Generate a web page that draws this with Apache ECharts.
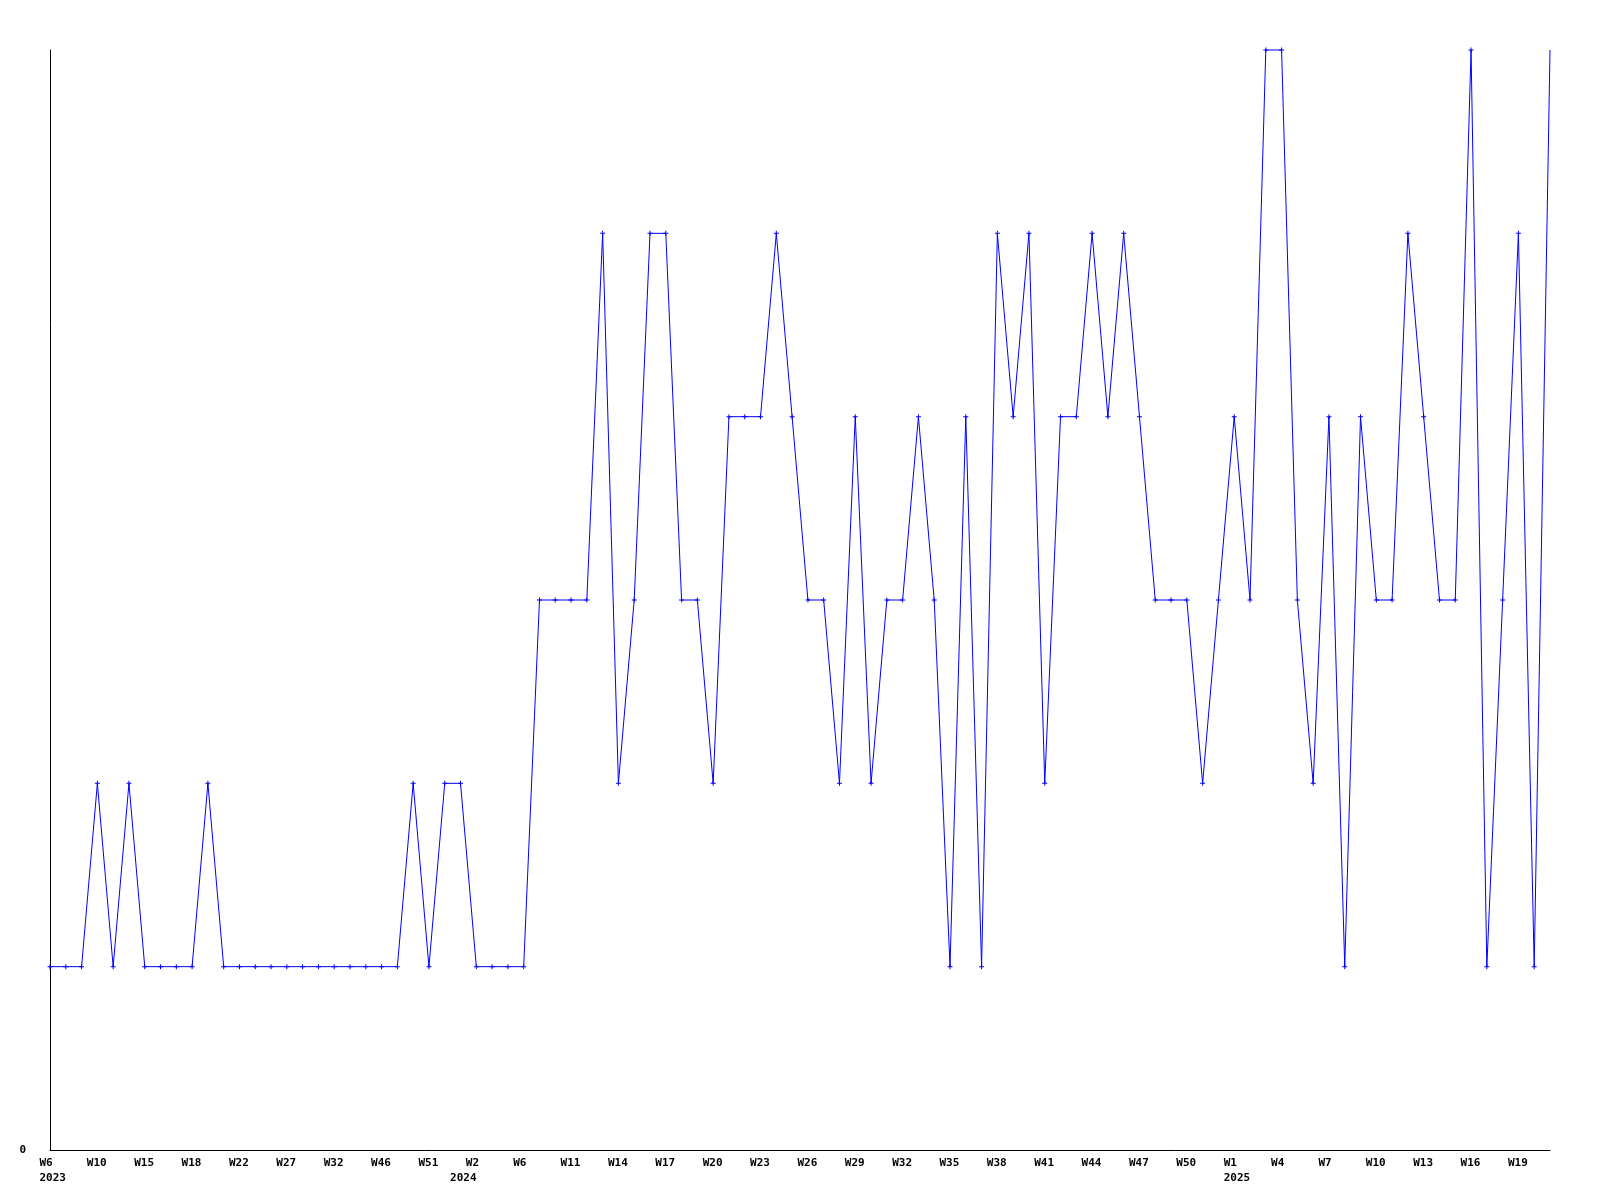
<!DOCTYPE html>
<html>
<head>
<meta charset="utf-8">
<script src="https://cdn.jsdelivr.net/npm/echarts@6/dist/echarts.min.js"></script>
<style>
html,body{margin:0;padding:0;background:#fff;}
#chart{width:1600px;height:1200px;}
</style>
</head>
<body>
<div id="chart"></div>
<script>
// Week categories (year-week)
const weeks = [
  "2023-W6","2023-W8","2023-W9","2023-W10","2023-W12","2023-W13","2023-W15","2023-W16","2023-W17","2023-W18",
  "2023-W19","2023-W21","2023-W22","2023-W24","2023-W25","2023-W27","2023-W29","2023-W30","2023-W32","2023-W36",
  "2023-W41","2023-W46","2023-W48","2023-W49","2023-W51","2023-W52","2024-W1","2024-W2","2024-W4","2024-W5",
  "2024-W6","2024-W8","2024-W10","2024-W11","2024-W12","2024-W13","2024-W14","2024-W15","2024-W16","2024-W17",
  "2024-W18","2024-W19","2024-W20","2024-W21","2024-W22","2024-W23","2024-W24","2024-W25","2024-W26","2024-W27",
  "2024-W28","2024-W29","2024-W30","2024-W31","2024-W32","2024-W33","2024-W34","2024-W35","2024-W36","2024-W37",
  "2024-W38","2024-W39","2024-W40","2024-W41","2024-W42","2024-W43","2024-W44","2024-W45","2024-W46","2024-W47",
  "2024-W48","2024-W49","2024-W50","2024-W51","2024-W52","2025-W1","2025-W2","2025-W3","2025-W4","2025-W5",
  "2025-W6","2025-W7","2025-W8","2025-W9","2025-W10","2025-W11","2025-W12","2025-W13","2025-W14","2025-W15",
  "2025-W16","2025-W17","2025-W18","2025-W19","2025-W20","2025-W21"
];

// Weekly counts
const counts = [
  1,1,1,2,1,2,1,1,1,1,
  2,1,1,1,1,1,1,1,1,1,
  1,1,1,2,1,2,2,1,1,1,
  1,3,3,3,3,5,2,3,5,5,
  3,3,2,4,4,4,5,4,3,3,
  2,4,2,3,3,4,3,1,4,1,
  5,4,5,2,4,4,5,4,5,4,
  3,3,3,2,3,4,3,6,6,3,
  2,4,1,4,3,3,5,4,3,3,
  6,1,3,5,1,6
];

// Y-axis tick labels
const yTicks = [0, 6];

const FONT = '"DejaVu Sans Mono", "Liberation Mono", monospace';

const richA = {
  a: {
    width: 21,
    align: 'left',
    fontFamily: FONT,
    fontSize: 11,
    fontWeight: 'bold',
    color: '#000',
    lineHeight: 15
  }
};

function isYearStart(index) {
  if (index === 0) return true;
  return weeks[index].split('-')[0] !== weeks[index - 1].split('-')[0];
}

const chart = echarts.init(document.getElementById('chart'), null, {renderer: 'canvas'});
const lastIdx = counts.length - 1;
chart.setOption({
  animation: false,
  backgroundColor: '#ffffff',
  grid: {left: 50, right: 50, top: 50, bottom: 50, containLabel: false},
  xAxis: [{
    type: 'category',
    data: weeks,
    boundaryGap: false,
    axisLine: {show: true, lineStyle: {color: '#000', width: 1}},
    axisTick: {show: false},
    splitLine: {show: false},
    axisLabel: {
      interval: 2,
      margin: 6,
      formatter: v => '{a|' + v.split('-')[1] + '}',
      rich: richA
    }
  }, {
    type: 'category',
    data: weeks,
    boundaryGap: false,
    position: 'bottom',
    axisLine: {show: false},
    axisTick: {show: false},
    splitLine: {show: false},
    axisLabel: {
      interval: (index) => isYearStart(index),
      margin: 21,
      formatter: v => '{a|' + v.split('-')[0] + '}',
      rich: richA
    }
  }],
  yAxis: {
    type: 'value',
    min: yTicks[0],
    max: yTicks[1],
    interval: yTicks[1] - yTicks[0],
    axisLine: {show: true, lineStyle: {color: '#000', width: 1}},
    axisTick: {show: false},
    splitLine: {show: false},
    axisLabel: {
      margin: 24,
      fontFamily: FONT,
      fontSize: 11,
      fontWeight: 'bold',
      color: '#000',
      formatter: function (v) { return v === yTicks[0] ? String(v) : ''; }
    }
  },
  series: [{
    type: 'line',
    xAxisIndex: 0,
    data: counts.map((v, i) => i === lastIdx ? {value: v, symbol: 'none'} : v),
    symbol: 'path://M2,0H3V2H5V3H3V5H2V3H0V2H2Z',
    symbolSize: 5,
    showAllSymbol: true,
    lineStyle: {color: '#0000ff', width: 1},
    itemStyle: {color: '#0000ff', borderWidth: 0},
    clip: false
  }]
});
</script>
</body>
</html>
